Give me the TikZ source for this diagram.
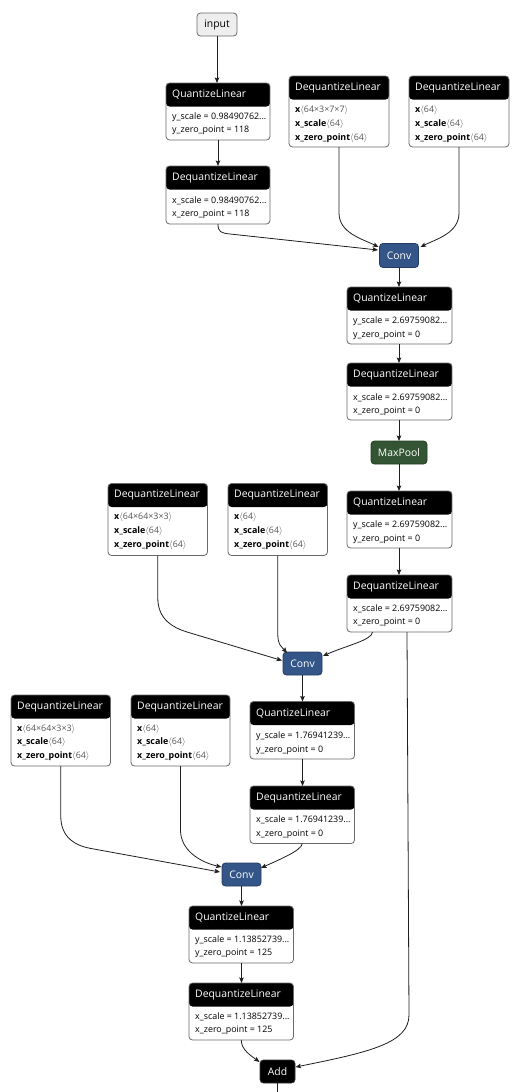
\documentclass[tikz,border=0pt]{standalone}
\usepackage{fontspec}
\setmainfont{Open Sans}
\usetikzlibrary{arrows.meta}
\definecolor{convc}{HTML}{335588}
\definecolor{poolc}{HTML}{335533}
\definecolor{bordc}{HTML}{6A6A6A}
\definecolor{graytxt}{HTML}{555555}
\definecolor{inputc}{HTML}{EEEEEE}
\tikzset{
  opbox/.style={draw=bordc, line width=0.8pt, fill=white, rounded corners=3.5pt, inner sep=0pt, outer sep=0pt},
  header/.style={path picture={\fill[black] (path picture bounding box.north west) rectangle ([yshift=-#1]path picture bounding box.north east);}},
  ttl/.style={inner sep=0pt, text=white, font=\fontsize{10.4}{12}\selectfont},
  bod/.style={inner sep=0pt, text=black, font=\fontsize{8.9}{10}\selectfont},
  smallop/.style={draw=#1!70!black, line width=0.8pt, fill=#1, rounded corners=3.5pt, inner sep=0pt, outer sep=0pt, text=white, font=\fontsize{10.4}{12}\selectfont, anchor=north west},
  inbox/.style={draw=bordc, line width=0.8pt, fill=inputc, rounded corners=3.5pt, inner sep=0pt, outer sep=0pt, text=black, font=\fontsize{10.4}{12}\selectfont, anchor=north west},
  edge/.style={draw=black!88, line width=0.8pt, -{Stealth[length=5.5pt,width=4.5pt,inset=1pt]}},
  plain/.style={draw=black!88, line width=0.8pt}
}
\newcommand\opn[6]{%
  \node[opbox, header=23.5pt, minimum width=#4pt, minimum height=#5pt, anchor=north west] (#1) at (#2,#3) {};
  \node[ttl, anchor=west] (#1t) at ([xshift=6pt,yshift=-11.75pt]#1.north west) {#6};
}
\newcommand\bl[4]{\node[bod, anchor=west] (#1) at ([xshift=6pt,yshift=-#3pt]#2.north west) {#4};}
\newcommand\shp[1]{\textcolor{graytxt}{$\langle$#1$\rangle$}}
\begin{document}
\begin{tikzpicture}[x=1pt,y=-1pt]
\useasboundingbox (0,0) rectangle (523,1092);

% input
\node[inbox, minimum width=40pt, minimum height=23pt] (inp) at (197,13) {input};

% first branch
\opn{ql1}{166}{83}{104}{57}{QuantizeLinear}
\bl{ql1a}{ql1}{34}{y\_scale = 0.98490762...}
\bl{ql1b}{ql1}{47.5}{y\_zero\_point = 118}

\opn{dq1}{166}{166}{104}{58}{DequantizeLinear}
\bl{dq1a}{dq1}{35}{x\_scale = 0.98490762...}
\bl{dq1b}{dq1}{48.5}{x\_zero\_point = 118}

\opn{dw1}{289}{76}{100}{71}{DequantizeLinear}
\bl{dw1a}{dw1}{34.3}{\textbf{x}\shp{64×3×7×7}}
\bl{dw1b}{dw1}{48.3}{\textbf{x\_scale}\shp{64}}
\bl{dw1c}{dw1}{62.3}{\textbf{x\_zero\_point}\shp{64}}

\opn{db1}{409}{76}{100}{71}{DequantizeLinear}
\bl{db1a}{db1}{34.3}{\textbf{x}\shp{64}}
\bl{db1b}{db1}{48.3}{\textbf{x\_scale}\shp{64}}
\bl{db1c}{db1}{62.3}{\textbf{x\_zero\_point}\shp{64}}

\node[smallop=convc, minimum width=39pt, minimum height=24pt] (conv1) at (379.5,243.5) {Conv};

\opn{ql2}{347}{287}{105}{57}{QuantizeLinear}
\bl{ql2a}{ql2}{34.5}{y\_scale = 2.69759082...}
\bl{ql2b}{ql2}{48}{y\_zero\_point = 0}

\opn{dq2}{347}{363}{105}{57}{DequantizeLinear}
\bl{dq2a}{dq2}{34.5}{x\_scale = 2.69759082...}
\bl{dq2b}{dq2}{48}{x\_zero\_point = 0}

\node[smallop=poolc, minimum width=56pt, minimum height=23pt] (pool) at (371,441) {MaxPool};

\opn{ql3}{347}{491}{105}{57}{QuantizeLinear}
\bl{ql3a}{ql3}{34.5}{y\_scale = 2.69759082...}
\bl{ql3b}{ql3}{48}{y\_zero\_point = 0}

\opn{dq3}{347}{575}{105}{57}{DequantizeLinear}
\bl{dq3a}{dq3}{34}{x\_scale = 2.69759082...}
\bl{dq3b}{dq3}{47.7}{x\_zero\_point = 0}

% second conv
\opn{dw2}{108}{483.5}{99.5}{72}{DequantizeLinear}
\bl{dw2a}{dw2}{34.2}{\textbf{x}\shp{64×64×3×3}}
\bl{dw2b}{dw2}{48.2}{\textbf{x\_scale}\shp{64}}
\bl{dw2c}{dw2}{62.2}{\textbf{x\_zero\_point}\shp{64}}

\opn{db2}{228}{483.5}{99.5}{72}{DequantizeLinear}
\bl{db2a}{db2}{34.2}{\textbf{x}\shp{64}}
\bl{db2b}{db2}{48.2}{\textbf{x\_scale}\shp{64}}
\bl{db2c}{db2}{62.2}{\textbf{x\_zero\_point}\shp{64}}

\node[smallop=convc, minimum width=39pt, minimum height=23pt] (conv2) at (283,652) {Conv};

\opn{ql4}{250}{701.5}{104.5}{57.5}{QuantizeLinear}
\bl{ql4a}{ql4}{34.5}{y\_scale = 1.76941239...}
\bl{ql4b}{ql4}{48.5}{y\_zero\_point = 0}

\opn{dq4}{250}{786}{104.5}{57.5}{DequantizeLinear}
\bl{dq4a}{dq4}{34}{x\_scale = 1.76941239...}
\bl{dq4b}{dq4}{48}{x\_zero\_point = 0}

% third conv
\opn{dw3}{11}{695}{99.5}{71}{DequantizeLinear}
\bl{dw3a}{dw3}{34.3}{\textbf{x}\shp{64×64×3×3}}
\bl{dw3b}{dw3}{47.7}{\textbf{x\_scale}\shp{64}}
\bl{dw3c}{dw3}{61.7}{\textbf{x\_zero\_point}\shp{64}}

\opn{db3}{131}{695}{99}{71}{DequantizeLinear}
\bl{db3a}{db3}{34.3}{\textbf{x}\shp{64}}
\bl{db3b}{db3}{47.7}{\textbf{x\_scale}\shp{64}}
\bl{db3c}{db3}{61.7}{\textbf{x\_zero\_point}\shp{64}}

\node[smallop=convc, minimum width=39pt, minimum height=23pt] (conv3) at (222,863) {Conv};

\opn{ql5}{189}{906}{104.5}{57}{QuantizeLinear}
\bl{ql5a}{ql5}{34}{y\_scale = 1.13852739...}
\bl{ql5b}{ql5}{47.5}{y\_zero\_point = 125}

\opn{dq5}{189}{983}{104.5}{57}{DequantizeLinear}
\bl{dq5a}{dq5}{34}{x\_scale = 1.13852739...}
\bl{dq5b}{dq5}{47.5}{x\_zero\_point = 125}

\node[smallop=black, draw=black!80, minimum width=35pt, minimum height=23pt] (add) at (260,1060) {Add};
\coordinate (out) at (277.5,1096);

% ---------------- edges
\draw[edge] (inp.south) -- (ql1.north -| inp.south);
\draw[edge] (ql1.south) -- (dq1.north);
\draw[edge] (dq1.south) .. controls +(0,8) and +(-9,-1) .. (230,234) -- ([xshift=-1.5pt,yshift=-6.5pt]conv1.north west);
\draw[edge] (dw1.south) -- ++(0,66) .. controls +(0,20) and +(-16,-8) .. ([xshift=-1pt,yshift=-3.5pt]conv1.north west);
\draw[edge] (db1.south) -- ++(0,66) .. controls +(0,20) and +(16,-8) .. ([xshift=2pt,yshift=-3.5pt]conv1.north east);

\draw[edge] (conv1.south) -- (ql2.north -| conv1.south);
\draw[edge] (ql2.south -| conv1.south) -- (dq2.north -| conv1.south);
\draw[edge] (dq2.south -| conv1.south) -- (pool.north -| conv1.south);
\draw[edge] (pool.south -| conv1.south) -- (ql3.north -| conv1.south);
\draw[edge] (ql3.south -| conv1.south) -- (dq3.north -| conv1.south);

\draw[edge] (dw2.south) -- ++(0,42) .. controls +(0,22) and +(-14,-4.3) .. (187,632) -- ([xshift=-1pt,yshift=-8.5pt]conv2.north west);
\draw[edge] (db2.south) -- ++(0,78) .. controls +(0,12) and +(-5,-6) .. ([xshift=4pt,yshift=-1pt]conv2.north west);
\draw[edge] ([xshift=-27pt]dq3.south) .. controls +(0,8) and +(22,-10) .. ([xshift=1pt,yshift=-4pt]conv2.north east);
\draw[edge] ([xshift=7.5pt]dq3.south) -- ++(2,383) .. controls +(0,28) and +(75,-15) .. ([xshift=0.5pt,yshift=-7pt]add.north east);

\draw[edge] (conv2.south) -- (ql4.north -| conv2.south);
\draw[edge] (ql4.south -| conv2.south) -- (dq4.north -| conv2.south);

\draw[edge] (dw3.south) -- ++(0,50) .. controls +(0,22) and +(-14,-2.6) .. (90,848.3) -- ([xshift=-2pt,yshift=-9pt]conv3.north west);
\draw[edge] (db3.south) -- ++(0,64) .. controls +(0,20) and +(-22,-5) .. ([xshift=-0.5pt,yshift=-4pt]conv3.north west);
\draw[edge] (dq4.south) .. controls +(0,7) and +(15,-7) .. ([yshift=-5pt]conv3.north east);

\draw[edge] (conv3.south) -- (ql5.north -| conv3.south);
\draw[edge] (ql5.south -| conv3.south) -- (dq5.north -| conv3.south);
\draw[edge] (dq5.south) .. controls +(0,10) and +(-8,-6) .. ([xshift=-0.5pt,yshift=-2pt]add.north west);
\draw[plain] (add.south) -- (out);
\end{tikzpicture}
\end{document}
